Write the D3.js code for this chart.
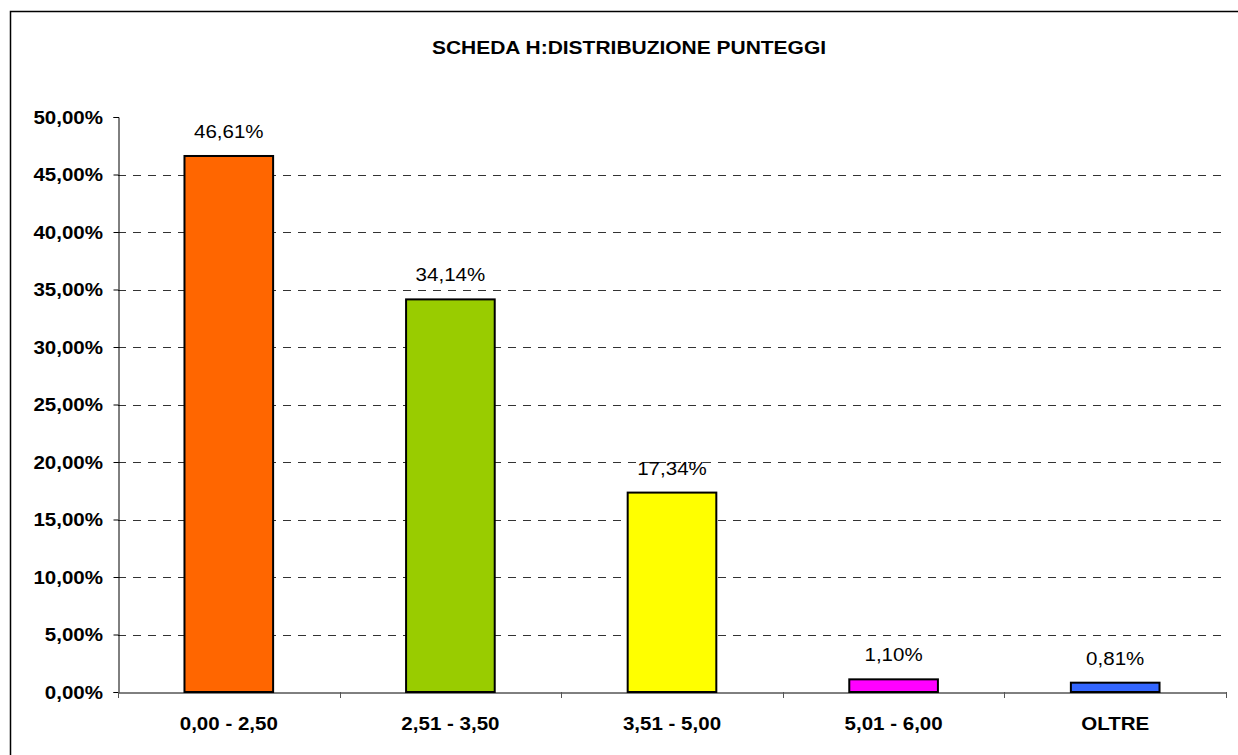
<!DOCTYPE html>
<html><head><meta charset="utf-8">
<script src="https://cdn.jsdelivr.net/npm/d3@7"></script>
<style>body{margin:0;background:#fff}svg{display:block}text{font-family:"Liberation Sans",Arial,sans-serif;fill:#000}</style>
</head><body>
<svg id="c" width="1238" height="755"></svg>
<script>
const categories = ["0,00 - 2,50","2,51 - 3,50","3,51 - 5,00","5,01 - 6,00","OLTRE"];
const values = [46.61, 34.14, 17.34, 1.10, 0.81];
const colors = ["#FF6600","#99CC00","#FFFF00","#FF00FF","#3366FF"];
const yTicks = [0,5,10,15,20,25,30,35,40,45,50];
const title = "SCHEDA H:DISTRIBUZIONE PUNTEGGI";

const svg = d3.select("#c");
const SX = 1.14;
const fmt = v => v.toFixed(2).replace(".", ",") + "%";

svg.append("rect").attr("x",10.5).attr("y",11.5).attr("width",1240).attr("height",760)
  .attr("fill","#fff").attr("stroke","#000").attr("stroke-width",1.5);

const L = 118, R = 1226, T = 117, B = 692;
const x = d3.scaleBand().domain(categories).range([L, R]).padding(0);
const y = d3.scaleLinear().domain([0, 50]).range([B, T]);

// gridlines
svg.append("g").selectAll("line").data(yTicks.filter(t => t > 0 && t < 50)).join("line")
  .attr("x1", L).attr("x2", R).attr("y1", d => Math.round(y(d)) + 0.5).attr("y2", d => Math.round(y(d)) + 0.5)
  .attr("stroke", "#333").attr("stroke-width", 1).attr("stroke-dasharray", "8,7");

// bars
svg.append("g").selectAll("rect").data(values).join("rect")
  .attr("x", (d, i) => x(categories[i]) + x.bandwidth() * 0.3)
  .attr("width", x.bandwidth() * 0.4)
  .attr("y", d => y(d))
  .attr("height", d => y(0) - y(d))
  .attr("fill", (d, i) => colors[i]).attr("stroke", "#000").attr("stroke-width", 2);

// y axis
const ya = svg.append("g").attr("transform", `translate(${L + 0.5},0)`)
  .call(d3.axisLeft(y).tickValues(yTicks).tickSize(5).tickFormat(d => fmt(d)));
ya.select(".domain").attr("stroke", "#000");
ya.selectAll(".tick line").attr("stroke", "#000");
ya.selectAll(".tick text").remove();
svg.append("g").selectAll("text").data(yTicks).join("text")
  .attr("transform", d => `translate(103,${y(d) + 6.5}) scale(${SX},1)`)
  .attr("text-anchor", "end").attr("font-weight", "bold").attr("font-size", 18)
  .text(d => fmt(d));

// x axis
const xa = svg.append("g").attr("transform", `translate(0,${B + 0.5})`)
  .call(d3.axisBottom(x).tickSize(0).tickFormat(""));
xa.select(".domain").attr("stroke", "#000");
svg.append("g").selectAll("line").data(d3.range(categories.length + 1)).join("line")
  .attr("x1", i => Math.round(L + i * x.step()) + 0.5).attr("x2", i => Math.round(L + i * x.step()) + 0.5)
  .attr("y1", B).attr("y2", B + 6).attr("stroke", "#555");
svg.append("g").selectAll("text").data(categories).join("text")
  .attr("transform", d => `translate(${x(d) + x.bandwidth() / 2},730) scale(${SX},1)`)
  .attr("text-anchor", "middle").attr("font-weight", "bold").attr("font-size", 18)
  .text(d => d);

// value labels
svg.append("g").selectAll("text").data(values).join("text")
  .attr("transform", (d, i) => `translate(${x(categories[i]) + x.bandwidth() / 2},${y(d) - 18}) scale(${SX},1)`)
  .attr("text-anchor", "middle").attr("font-size", 18)
  .text(d => fmt(d));

// title
svg.append("text").attr("transform", `translate(629,54) scale(${SX},1)`)
  .attr("text-anchor", "middle").attr("font-weight", "bold").attr("font-size", 18.4)
  .text(title);
</script>
</body></html>
